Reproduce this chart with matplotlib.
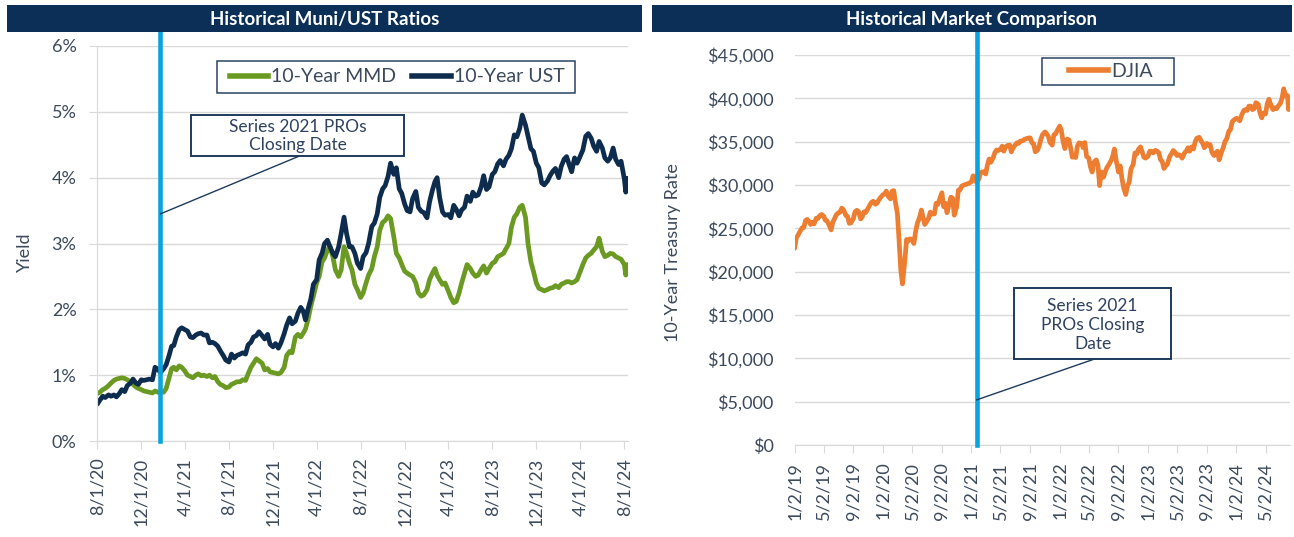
import matplotlib
matplotlib.use("Agg")
import matplotlib.pyplot as plt
from matplotlib.patches import Rectangle
from matplotlib.lines import Line2D
from matplotlib.ticker import FuncFormatter
import pandas as pd

plt.rcParams['font.family'] = ['Lato', 'DejaVu Sans']

# ---- data (weekly samples) ----
# 10-year yields, %, four readings per month Aug 2020 - Jul 2024, then Aug 2024
ust = [
    0.56, 0.62, 0.68, 0.66, 0.70, 0.68, 0.70, 0.67, 0.72, 0.78, 0.75, 0.84,
    0.88, 0.94, 0.88, 0.86, 0.93, 0.92, 0.93, 0.94,
    0.93, 1.12, 1.09, 1.04, 1.10, 1.16, 1.30, 1.44, 1.45, 1.58, 1.69, 1.72,
    1.69, 1.67, 1.58, 1.57, 1.61, 1.63, 1.64, 1.61, 1.61, 1.49, 1.50, 1.48,
    1.44, 1.37, 1.30, 1.23, 1.20, 1.32, 1.26, 1.30, 1.32, 1.34, 1.32, 1.46,
    1.50, 1.58, 1.60, 1.66, 1.60, 1.55, 1.62, 1.47, 1.43, 1.48, 1.41, 1.49,
    1.63, 1.76, 1.87, 1.78, 1.82, 1.94, 2.03, 1.97, 1.84, 2.00, 2.16, 2.38,
    2.45, 2.75, 2.85, 3.00, 3.05, 2.95, 2.85, 2.80, 2.95, 3.15, 3.40, 3.15,
    2.95, 2.95, 2.85, 2.70, 2.62, 2.80, 2.86, 3.00, 3.26, 3.31, 3.45, 3.70,
    3.83, 3.88, 4.02, 4.22, 4.05, 4.15, 3.83, 3.76, 3.60, 3.50, 3.48, 3.68,
    3.79, 3.55, 3.49, 3.47, 3.39, 3.63, 3.81, 3.94, 4.00, 3.70, 3.48, 3.43,
    3.44, 3.39, 3.58, 3.52, 3.42, 3.51, 3.55, 3.72, 3.64, 3.78, 3.72, 3.74,
    3.86, 4.03, 3.82, 3.86, 4.05, 4.09, 4.21, 4.26, 4.18, 4.28, 4.34, 4.44,
    4.65, 4.62, 4.75, 4.95, 4.80, 4.63, 4.44, 4.40, 4.22, 4.15, 3.92, 3.89,
    3.95, 4.03, 4.10, 4.14, 4.00, 4.17, 4.28, 4.32, 4.20, 4.09, 4.30, 4.22,
    4.33, 4.42, 4.63, 4.67, 4.60, 4.48, 4.40, 4.55, 4.45, 4.30, 4.25, 4.30,
    4.45, 4.28, 4.20, 4.25,
    3.98, 3.78, 3.99,
]
mmd = [
    0.72, 0.74, 0.78, 0.80, 0.84, 0.88, 0.92, 0.94, 0.95, 0.96, 0.95, 0.93,
    0.90, 0.86, 0.82, 0.80, 0.78, 0.76, 0.75, 0.74,
    0.73, 0.76, 0.74, 0.75, 0.74, 0.80, 0.96, 1.10, 1.12, 1.08, 1.14, 1.12,
    1.06, 1.00, 0.98, 0.96, 1.00, 1.02, 0.99, 1.00, 0.98, 1.00, 0.96, 0.98,
    0.90, 0.86, 0.84, 0.81, 0.82, 0.86, 0.88, 0.90, 0.90, 0.93, 0.92, 1.02,
    1.12, 1.18, 1.25, 1.22, 1.18, 1.08, 1.10, 1.05, 1.04, 1.03, 1.02, 1.04,
    1.12, 1.30, 1.36, 1.34, 1.58, 1.62, 1.58, 1.64, 1.70, 1.84, 2.05, 2.20,
    2.40, 2.50, 2.72, 2.78, 2.90, 2.96, 2.80, 2.60, 2.50, 2.60, 2.95, 2.85,
    2.70, 2.60, 2.38, 2.30, 2.18, 2.25, 2.40, 2.52, 2.62, 2.80, 2.95, 3.20,
    3.32, 3.35, 3.42, 3.38, 3.10, 2.85, 2.78, 2.68, 2.58, 2.55, 2.52, 2.50,
    2.40, 2.25, 2.20, 2.22, 2.30, 2.45, 2.55, 2.62, 2.52, 2.45, 2.38, 2.40,
    2.28, 2.18, 2.10, 2.12, 2.25, 2.40, 2.55, 2.68, 2.62, 2.55, 2.50, 2.52,
    2.60, 2.66, 2.55, 2.62, 2.70, 2.72, 2.80, 2.82, 2.85, 2.92, 3.00, 3.25,
    3.40, 3.45, 3.55, 3.58, 3.40, 3.00, 2.72, 2.58, 2.40, 2.32, 2.30, 2.28,
    2.30, 2.32, 2.33, 2.36, 2.33, 2.38, 2.40, 2.42, 2.42, 2.40, 2.42, 2.45,
    2.58, 2.68, 2.78, 2.82, 2.85, 2.90, 2.95, 3.08, 2.88, 2.80, 2.82, 2.85,
    2.84, 2.80, 2.78, 2.76,
    2.68, 2.52, 2.68,
]
# DJIA close, four readings per month Jan 2019 - Jul 2024, then Aug 2024
djia = [
    22690, 23880, 24210, 24580, 25060, 25100, 25880, 26030, 25820, 25450, 25700, 25500,
    26180, 26150, 26450, 26600, 26430, 25940, 25860, 25490, 24820, 25720, 26110, 26550,
    26790, 26860, 27330, 27150, 26480, 26380, 25580, 25630, 26120, 26910, 27080, 26950,
    26080, 26350, 26900, 26830, 27350, 27690, 28000, 28120, 27780, 27910, 28270, 28550,
    28870, 28960, 29300, 28740, 28400, 29280, 29350, 27960, 26700, 23550, 20190, 18590,
    21410, 23720, 23540, 23780, 23720, 23250, 24570, 25550, 26280, 27110, 26290, 25450,
    25830, 26170, 26870, 26650, 26660, 27890, 27740, 28330, 29100, 27500, 27900, 26800,
    27800, 28590, 28500, 26520, 27480, 29400, 29440, 29870, 30000, 30070, 30150, 30200,
    30390, 31060, 30930, 30300, 30690, 31440, 31520, 31540, 31270, 32300, 33000, 32620,
    33150, 33740, 34040, 33980, 34110, 34480, 33900, 34400, 34580, 34600, 33820, 34290,
    34630, 34870, 34800, 35060, 35100, 35260, 35340, 35400, 35440, 34880, 34750, 33840,
    34000, 34500, 35260, 35820, 36120, 35920, 35600, 34900, 34600, 35800, 35900, 36300,
    36800, 36250, 35000, 34200, 35300, 35200, 34300, 33200, 33300, 33170, 34480, 34860,
    34800, 34300, 34900, 33300, 33100, 32100, 31500, 32600, 32900, 32270, 29930, 31500,
    30900, 31500, 32000, 32300, 32800, 33300, 34150, 32900, 31500, 32200, 30800, 29700,
    28900, 29900, 30300, 31800, 32400, 33700, 33550, 34100, 34400, 33800, 33200, 33100,
    33300, 33900, 33900, 33700, 34000, 33900, 33700, 32900, 32700, 31900, 32200, 32400,
    33300, 33600, 33980, 33800, 33400, 33500, 33400, 33100, 33700, 33900, 34300, 33900,
    34400, 34150, 35000, 35400, 35500, 35120, 34800, 34300, 34800, 34600, 34650, 33800,
    33400, 33700, 33900, 32900, 33800, 34300, 35000, 35300, 36200, 36400, 37300, 37500,
    37700, 37600, 37400, 38000, 38600, 38700, 38600, 39100, 39100, 38700, 38800, 39500,
    39300, 38300, 37750, 38300, 38200, 39400, 39900, 39300, 38700, 38900, 38800, 39100,
    39400, 40000, 41100, 40300,
    40300, 38700, 39500,
]
tail_dates = ["2024-08-01", "2024-08-05", "2024-08-09"]
closing_date = "2021-01-23"

left_ticks = ["8/1/20", "12/1/20", "4/1/21", "8/1/21", "12/1/21", "4/1/22", "8/1/22",
              "12/1/22", "4/1/23", "8/1/23", "12/1/23", "4/1/24", "8/1/24"]
right_ticks = ["1/2/19", "5/2/19", "9/2/19", "1/2/20", "5/2/20", "9/2/20", "1/2/21",
               "5/2/21", "9/2/21", "1/2/22", "5/2/22", "9/2/22", "1/2/23", "5/2/23",
               "9/2/23", "1/2/24", "5/2/24"]


def sample_dates(first_month, last_month, offsets):
    months = pd.date_range(first_month, last_month, freq="MS")
    d = [m + pd.Timedelta(days=k) for m in months for k in offsets]
    return pd.DatetimeIndex(d + list(pd.to_datetime(tail_dates)))


yield_dates = sample_dates("2020-08-01", "2024-07-01", [0, 7, 15, 22])
djia_dates = sample_dates("2019-01-01", "2024-07-01", [1, 8, 15, 22])
closing = pd.Timestamp(closing_date)

# ---- style ----
NAVY = "#0B2F57"
UST_C = "#0E2D4E"
MMD_C = "#6B9A22"
DJIA_C = "#ED7D31"
BLUE = "#0BA3DE"
TXT = "#3C4A5C"
GRID = "#D9D9D9"

W, H = 1294, 537


def fbox(x0, y0, x1, y1):
    return [x0 / W, 1 - y1 / H, (x1 - x0) / W, (y1 - y0) / H]


def fpt(x, y):
    return (x / W, 1 - y / H)


fig = plt.figure(figsize=(W / 100, H / 100), dpi=100)

# title bars
for (x0, x1, title) in [(7, 642, "Historical Muni/UST Ratios"),
                        (652, 1292, "Historical Market Comparison")]:
    b = fbox(x0, 5, x1, 32)
    fig.add_artist(Rectangle((b[0], b[1]), b[2], b[3], transform=fig.transFigure,
                             facecolor=NAVY, edgecolor="none", zorder=10))
    fig.text(*fpt((x0 + x1) / 2, 19), title, ha="center", va="center",
             color="white", fontsize=13.5, fontweight="bold", zorder=11)

ax1 = fig.add_axes(fbox(97.3, 46, 628.3, 441))
ax2 = fig.add_axes(fbox(794.6, 55, 1290, 445))

# left chart
ax1.plot(yield_dates, mmd, color=MMD_C, lw=3.4, label="10-Year MMD", solid_capstyle="round")
ax1.plot(yield_dates, ust, color=UST_C, lw=3.4, label="10-Year UST", solid_capstyle="round")
ax1.plot([closing, closing], [0, 6.2], color=BLUE, lw=3.3, clip_on=False, zorder=6)
ax1.set_ylim(0, 6)
ax1.set_xlim(pd.Timestamp("2020-08-01"), pd.Timestamp("2024-08-12"))
ax1.set_yticks(range(0, 7))
ax1.yaxis.set_major_formatter(FuncFormatter(lambda v, p: f"{v:.0f}%"))
ax1.set_xticks(pd.to_datetime(left_ticks, format="%m/%d/%y"))
ax1.set_xticklabels(left_ticks, rotation=90)
ax1.tick_params(axis="y", length=6, color=GRID, pad=9, labelsize=13, labelcolor=TXT)
ax1.tick_params(axis="x", length=6, color=GRID, pad=6, labelsize=13, labelcolor=TXT)
for s in ["top", "right"]:
    ax1.spines[s].set_visible(False)
for s in ["left", "bottom"]:
    ax1.spines[s].set_color(GRID)
ax1.yaxis.grid(True, color=GRID, lw=1)
ax1.set_axisbelow(True)

# right chart
ax2.plot(djia_dates, djia, color=DJIA_C, lw=3.4, label="DJIA", solid_capstyle="round")
ax2.plot([closing, closing], [0, 47540], color=BLUE, lw=3.3, clip_on=False, zorder=6)
ax2.set_ylim(0, 45000)
ax2.set_xlim(pd.Timestamp("2019-01-02"), pd.Timestamp("2024-08-11"))
ax2.set_yticks(range(0, 45001, 5000))
ax2.yaxis.set_major_formatter(FuncFormatter(lambda v, p: f"${v:,.0f}"))
ax2.set_xticks(pd.to_datetime(right_ticks, format="%m/%d/%y"))
ax2.set_xticklabels(right_ticks, rotation=90)
ax2.tick_params(axis="y", length=0, pad=15, labelsize=13, labelcolor=TXT)
ax2.tick_params(axis="x", length=6, color=GRID, pad=6, labelsize=13, labelcolor=TXT)
for s in ["top", "right", "left"]:
    ax2.spines[s].set_visible(False)
ax2.spines["bottom"].set_color(GRID)
ax2.yaxis.grid(True, color=GRID, lw=1)
ax2.set_axisbelow(True)

# axis titles
fig.text(*fpt(25, 252), "Yield", rotation=90, ha="center", va="center",
         fontsize=13, color=TXT)
fig.text(*fpt(673, 253), "10-Year Treasury Rate", rotation=90, ha="center",
         va="center", fontsize=13, color=TXT)

# legends with fixed boxes (figure-level so they sit above the frame patch)
for ax, (x0, y0, x1, y1), ncol, shift in [(ax1, (217, 61, 575, 93), 2, 1),
                                          (ax2, (1042, 58, 1174, 85), 1, 3)]:
    b = fbox(x0, y0, x1, y1)
    fig.add_artist(Rectangle((b[0], b[1]), b[2], b[3], transform=fig.transFigure,
                             facecolor="white", edgecolor="#2A4466", lw=1.1, zorder=7))
    handles, labels = ax.get_legend_handles_labels()
    handles = [Line2D([], [], color=h.get_color(), lw=4) for h in handles]
    leg = fig.legend(handles, labels, loc="center", ncol=ncol,
                     bbox_to_anchor=fpt((x0 + x1) / 2 + shift, (y0 + y1) / 2),
                     bbox_transform=fig.transFigure, frameon=False, fontsize=14,
                     handlelength=2.0, handletextpad=0.15, columnspacing=0.8,
                     borderpad=0, labelcolor=TXT)
    leg.set_zorder(9)

# closing-date callouts
callouts = [
    (ax1, (191, 115, 404, 156), "Series 2021 PROs\nClosing Date", (297.5, 136), 3.45),
    (ax2, (1014, 288, 1171, 359), "Series 2021\nPROs Closing\nDate", (1092.5, 325), 5200),
]
for ax, (x0, y0, x1, y1), txt, (tx, ty), yv in callouts:
    b = fbox(x0, y0, x1, y1)
    fig.add_artist(Rectangle((b[0], b[1]), b[2], b[3], transform=fig.transFigure,
                             facecolor="white", edgecolor="#1E3A5C", lw=1.4, zorder=7))
    fig.text(*fpt(tx, ty), txt, ha="center", va="center", fontsize=12.5,
             color="#2E4260", linespacing=1.2, zorder=8)
    ax.annotate("", xy=(closing, yv), xycoords="data",
                xytext=fpt((x0 + x1) / 2 + 2, y1), textcoords="figure fraction",
                arrowprops=dict(arrowstyle="-", color="#1E3A5C", lw=1,
                                shrinkA=0, shrinkB=0), zorder=7)

fig.savefig("out.png", dpi=100)
